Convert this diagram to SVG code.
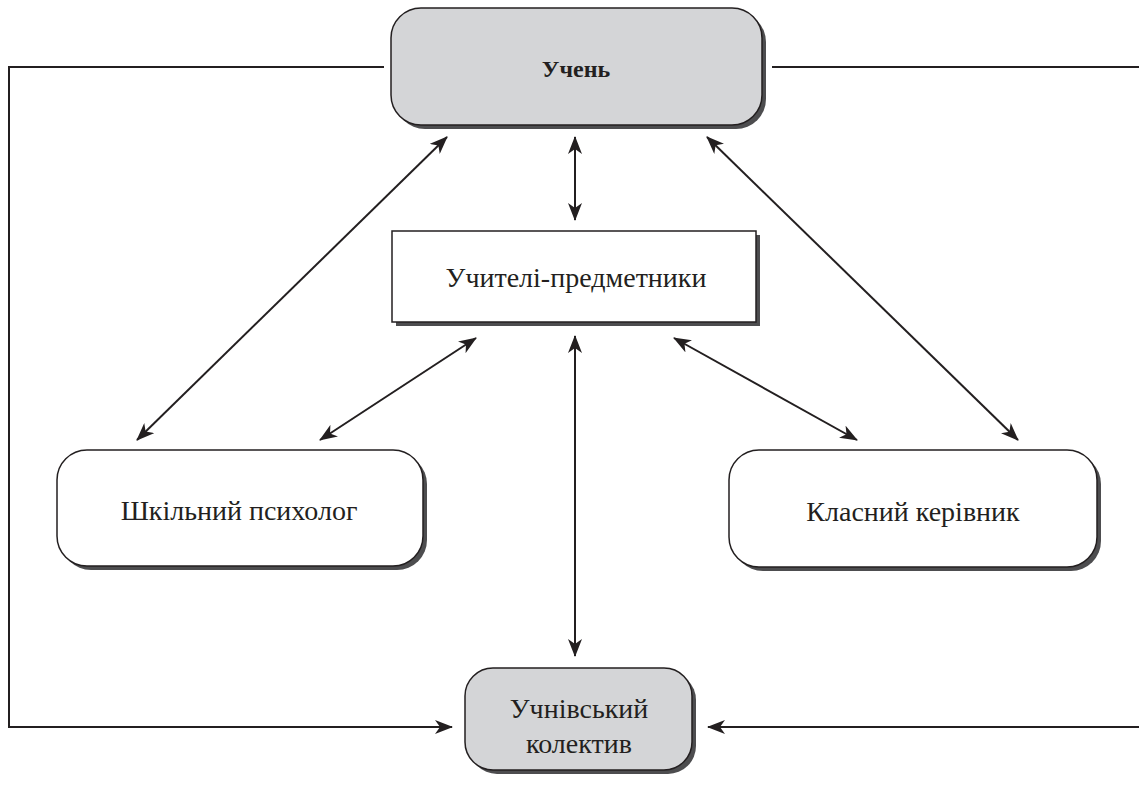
<svg xmlns="http://www.w3.org/2000/svg" width="1139" height="788" viewBox="0 0 1139 788">
<style>
.box{stroke:#231f20;stroke-width:1.5}
.shadow{fill:#4d4d4f}
.gray{fill:#d4d5d7}
.white{fill:#ffffff}
.t{font-family:"Liberation Serif","Times New Roman",serif;font-size:28px;fill:#231f20;text-anchor:middle}
.b{font-weight:bold;font-size:24px}
.c{fill:none;stroke:#231f20;stroke-width:2}
</style>
<defs>
<marker id="ah" viewBox="0 0 18 14" refX="17" refY="7" markerWidth="18" markerHeight="14" markerUnits="userSpaceOnUse" orient="auto-start-reverse">
<path d="M0,0 L18,7 L0,14 L5,7 z" fill="#231f20"/>
</marker>
</defs>
<g id="connectors">
<polyline class="c" points="384,67 9,67 9,727 452,727" marker-end="url(#ah)"/>
<polyline class="c" points="772,67 1140,67"/>
<line class="c" x1="1140" y1="727" x2="708" y2="727" marker-end="url(#ah)"/>
<line class="c" x1="575" y1="137" x2="575" y2="220" marker-start="url(#ah)" marker-end="url(#ah)"/>
<line class="c" x1="575" y1="336" x2="575" y2="656" marker-start="url(#ah)" marker-end="url(#ah)"/>
<line class="c" x1="447" y1="137" x2="137" y2="440" marker-start="url(#ah)" marker-end="url(#ah)"/>
<line class="c" x1="707" y1="137" x2="1018" y2="440" marker-start="url(#ah)" marker-end="url(#ah)"/>
<line class="c" x1="476" y1="338" x2="320" y2="440" marker-start="url(#ah)" marker-end="url(#ah)"/>
<line class="c" x1="674" y1="338" x2="857" y2="440" marker-start="url(#ah)" marker-end="url(#ah)"/>
</g>
<g id="node-uchen">
<rect class="shadow" x="395" y="12" width="371" height="117" rx="30"/>
<rect class="box gray" x="391" y="8" width="371" height="117" rx="30"/>
<text class="t b" x="576" y="77">Учень</text>
</g>
<g id="node-uchyteli">
<rect class="shadow" x="396" y="235" width="364" height="91"/>
<rect class="box white" x="392" y="231" width="364" height="91"/>
<text class="t" x="576" y="287">Учителі-предметники</text>
</g>
<g id="node-psykholog">
<rect class="shadow" x="61" y="454" width="366" height="116" rx="30"/>
<rect class="box white" x="57" y="450" width="366" height="116" rx="30"/>
<text class="t" x="239" y="520">Шкільний психолог</text>
</g>
<g id="node-kerivnyk">
<rect class="shadow" x="733" y="454" width="368" height="117" rx="30"/>
<rect class="box white" x="729" y="450" width="368" height="117" rx="30"/>
<text class="t" x="913" y="521">Класний керівник</text>
</g>
<g id="node-kolektyv">
<rect class="shadow" x="469" y="672" width="227" height="102" rx="28"/>
<rect class="box gray" x="465" y="668" width="227" height="102" rx="28"/>
<text class="t" x="579" y="718">Учнівський</text>
<text class="t" x="579" y="753">колектив</text>
</g>
</svg>
